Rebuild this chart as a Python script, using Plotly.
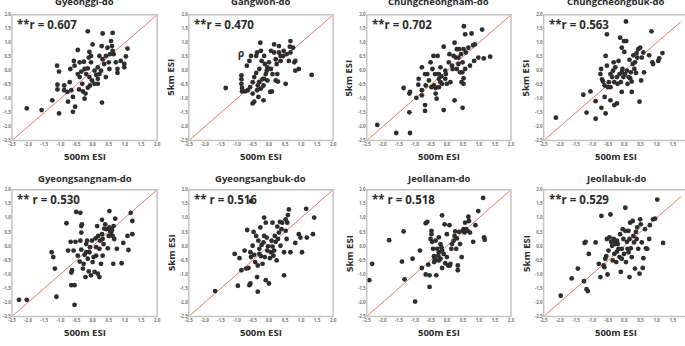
import plotly.graph_objects as go

W, H = 685, 346

TITLES = ["Gyeonggi-do", "Gangwon-do", "Chungcheongnam-do", "Chungcheongbuk-do",
          "Gyeongsangnam-do", "Gyeongsangbuk-do", "Jeollanam-do", "Jeollabuk-do"]
R_TEXT = ["**r = 0.607", "**r = 0.470", "**r = 0.702", "**r = 0.563",
          "** r = 0.530", "** r = 0.516", "** r = 0.518", "**r = 0.529"]
TICKS = [-2.5, -2.0, -1.5, -1.0, -0.5, 0.0, 0.5, 1.0, 1.5, 2.0]
LINE = [-2.5, 2.0]
X_LABEL = "500m ESI"
Y_LABEL = "5km ESI"

GYEONGGI_X = [-2.04, -1.58, -1.25, -1.04, -1.10, -1.04, -1.09, -1.09, -0.88, -0.88, -0.78, -0.71, -0.66, -0.76, -0.61, -0.61, -0.54, -0.69, -0.58, -0.46, -0.56, -0.40, -0.27, -0.46, -0.35, -0.40, -0.32, -0.42, -0.30, -0.22, -0.25, -0.15, -0.10, -0.12, -0.05, -0.05, -0.15, -0.20, -0.10, -0.02, -0.08, -0.15, 0.00, 0.06, 0.11, 0.16, 0.06, 0.16, 0.21, 0.28, 0.31, 0.31, 0.29, 0.36, 0.41, 0.41, 0.50, 0.52, 0.57, 0.62, 0.60, 0.65, 0.62, 0.54, 0.72, 0.77, 0.77, 0.87, 0.98, 0.98, 1.03, 1.08, 0.46, 0.21, 0.26, -0.25, 0.16]
GYEONGGI_Y = [-1.35, -1.41, -1.06, -1.53, 0.18, -0.03, -0.50, -0.67, -0.53, -0.70, -0.76, -0.41, -0.70, -1.11, -0.94, -1.47, -1.29, 0.06, 0.35, 0.74, 0.18, 0.30, 0.32, -0.12, -0.03, -0.23, -0.47, -0.67, -0.74, -0.82, -1.00, 1.41, 0.67, 0.47, 0.53, 0.30, 0.08, -0.12, -0.23, -0.35, -0.53, -0.61, 0.94, 0.00, -0.15, 0.12, -0.47, -0.47, 0.53, 0.88, 1.33, 0.41, -1.14, 0.24, -0.23, 0.53, 0.30, 0.06, 1.06, 1.35, 0.88, 0.59, 0.71, 0.59, 0.30, 0.06, -0.08, 0.35, 0.24, 0.12, 0.51, 0.79, 0.82, -0.12, 0.00, 0.06, -0.29]

GANGWON_X = [-1.35, -0.86, -0.86, -0.86, -0.84, -0.84, -0.74, -0.66, -0.69, -0.56, -0.59, -0.51, -0.51, -0.46, -0.51, -0.46, -0.40, -0.37, -0.37, -0.35, -0.33, -0.30, -0.30, -0.27, -0.25, -0.23, -0.20, -0.17, -0.17, -0.13, -0.10, -0.07, -0.05, 0.04, 0.09, 0.00, 0.06, 0.16, 0.16, 0.21, 0.21, 0.24, 0.28, 0.31, 0.31, 0.36, 0.36, 0.44, 0.52, 0.55, 0.62, 0.65, 0.67, 0.67, 0.75, 0.79, 0.82, 0.82, 0.93, 1.33, -0.05, -0.15, 0.11, -0.25, -0.40, 0.46, -0.61, 0.06, -0.15, 0.26]
GANGWON_Y = [-0.62, -0.17, -0.31, -0.47, -0.62, -0.74, -0.74, -0.70, 0.18, 0.53, -0.59, -0.82, -1.17, -1.11, -0.41, -0.23, -0.08, 0.65, -0.70, -0.53, -0.94, -0.41, 0.06, 1.00, 0.71, 0.35, -0.31, -1.06, -0.53, 0.24, -0.12, 0.00, -0.35, -0.76, -0.74, 0.30, 0.06, 0.94, 0.65, 0.41, -0.35, 0.24, -0.39, 0.88, 0.65, 0.35, 0.53, 0.53, -0.47, 0.59, 0.35, 0.86, 1.06, 0.65, 0.82, 0.30, 0.35, 0.00, 0.06, -0.15, 0.12, 0.53, -0.12, -0.64, 0.53, 0.71, 0.35, 0.71, -0.29, -0.12]

CHUNGNAM_X = [-2.17, -1.58, -1.15, -1.35, -1.17, -1.15, -1.17, -0.95, -0.88, -0.89, -0.78, -0.78, -0.78, -0.68, -0.68, -0.68, -0.61, -0.56, -0.51, -0.48, -0.42, -0.40, -0.35, -0.35, -0.32, -0.37, -0.29, -0.27, -0.25, -0.20, -0.20, -0.17, -0.15, -0.10, -0.10, -0.05, -0.03, 0.00, -0.05, 0.06, 0.08, 0.11, 0.16, 0.18, 0.21, 0.24, 0.24, 0.28, 0.31, 0.36, 0.36, 0.38, 0.41, 0.44, 0.46, 0.48, 0.49, 0.52, 0.52, 0.49, 0.53, 0.57, 0.52, 0.57, 0.59, 0.67, 0.72, 0.77, 0.82, 0.85, 0.87, 0.98, 1.10, 1.15, 1.35, -0.25, -0.45, 0.31, -0.25, -0.66]
CHUNGNAM_Y = [-1.94, -2.23, -2.23, -0.62, -0.82, -0.76, -1.49, -0.97, -0.29, -0.50, -0.70, -0.88, 0.12, -0.12, -1.23, -1.44, -0.12, -0.35, 0.30, -0.59, 0.53, -0.53, -0.62, -0.82, -1.00, -0.12, 0.53, -0.12, -0.29, 0.12, -0.41, -0.20, -0.47, 0.86, -1.41, 0.00, -0.12, -0.47, -0.29, 0.30, 0.59, -0.41, 0.18, 0.06, 0.53, 1.00, -1.06, 0.47, 0.06, 0.24, 0.47, 0.77, -0.06, 0.59, -0.41, -0.06, 0.30, 0.77, -0.27, -1.33, 1.59, 1.30, -0.47, 0.06, 0.65, 0.82, 0.18, 1.33, 0.91, 0.35, 0.94, 0.47, 1.47, 0.44, 0.50, -0.12, 0.06, 0.77, -0.59, -0.53]

CHUNGBUK_X = [-2.12, -1.27, -1.17, -1.05, -0.89, -0.89, -0.71, -0.74, -0.72, -0.66, -0.69, -0.61, -0.61, -0.58, -0.58, -0.54, -0.54, -0.51, -0.48, -0.43, -0.43, -0.38, -0.35, -0.33, -0.31, -0.31, -0.28, -0.23, -0.21, -0.18, -0.15, -0.13, -0.11, -0.08, -0.08, -0.06, -0.03, 0.00, -0.01, 0.05, 0.06, 0.02, 0.08, 0.10, 0.13, 0.16, 0.20, 0.23, 0.23, 0.26, 0.28, 0.31, 0.33, 0.36, 0.38, 0.40, 0.43, 0.47, 0.49, 0.52, 0.54, 0.59, 0.61, 0.77, 0.84, 0.87, 0.89, 1.05, 1.08, 1.18, -0.23, 0.18, -0.08, -0.43]
CHUNGBUK_Y = [-1.68, -0.86, -1.50, -0.74, -1.09, -1.72, -1.33, -0.12, 0.06, -0.39, -0.31, -0.53, -0.94, 0.53, -1.53, 1.30, 0.18, -0.59, -0.41, -0.12, -1.06, -0.23, 0.00, 0.30, -0.41, -1.23, 0.12, -1.17, -0.47, 0.35, -0.12, 1.18, -0.41, -0.76, -0.06, 0.06, -0.23, 0.67, 1.06, 1.76, 1.06, -0.12, 0.00, -0.47, -0.23, 0.39, -0.06, -0.39, -0.76, 0.24, 0.55, 0.06, 0.30, -0.08, 0.63, 0.47, 0.77, -1.11, 0.82, -0.35, 0.47, 0.65, -0.06, 0.55, 1.41, 0.30, 0.24, 0.35, 0.44, 0.63, -0.23, -0.27, 0.82, -0.59]

GYEONGNAM_X = [-2.28, -2.04, -1.27, -1.22, -1.17, -1.12, -0.81, -0.76, -0.68, -0.64, -0.66, -0.66, -0.56, -0.59, -0.56, -0.53, -0.51, -0.46, -0.40, -0.38, -0.38, -0.35, -0.35, -0.33, -0.35, -0.30, -0.28, -0.25, -0.22, -0.20, -0.17, -0.15, -0.12, -0.10, -0.08, -0.05, -0.02, 0.00, 0.03, 0.06, 0.09, 0.11, 0.14, 0.16, 0.17, 0.21, 0.21, 0.23, 0.26, 0.29, 0.29, 0.31, 0.34, 0.36, 0.39, 0.43, 0.47, 0.50, 0.52, 0.52, 0.54, 0.57, 0.60, 0.62, 0.64, 0.65, 0.67, 0.70, 0.75, 0.90, 0.95, 1.08, 1.11, 1.18, 1.23, 1.23, 0.31, -0.20, 0.11]
GYEONGNAM_Y = [-1.91, -1.91, -0.22, -0.39, -0.80, -1.80, 0.81, -0.16, 0.15, -0.86, -0.94, -1.39, -1.39, -0.16, -2.09, 0.15, 1.21, -0.34, -0.55, 1.18, 0.19, 0.71, 0.48, 0.77, -0.13, -0.80, -0.63, -0.31, -1.10, 0.07, 0.19, -0.45, -0.90, -0.22, -0.04, -1.04, 0.19, -0.57, -0.39, -0.92, 0.27, -0.04, 0.71, -0.98, 0.36, -1.10, -0.10, 0.19, -0.63, 0.93, 0.42, -0.34, 0.07, 0.62, 0.77, 0.60, -0.08, 0.36, 1.24, 0.66, 0.54, 0.48, 0.57, 0.36, -0.63, 0.71, 0.25, 0.97, -0.10, -0.61, 0.11, 0.36, -0.14, 1.18, 0.89, 0.42, 0.25, -0.22, -0.34]

GYEONGBUK_X = [-1.68, -1.07, -0.97, -0.92, -0.86, -0.76, -0.71, -0.68, -0.64, -0.61, -0.58, -0.58, -0.56, -0.51, -0.48, -0.46, -0.43, -0.40, -0.37, -0.35, -0.33, -0.30, -0.30, -0.27, -0.25, -0.23, -0.20, -0.17, -0.15, -0.13, -0.10, -0.10, -0.07, -0.05, -0.03, 0.00, 0.03, 0.06, 0.08, 0.11, 0.11, 0.14, 0.18, 0.21, 0.24, 0.26, 0.28, 0.31, 0.34, 0.36, 0.39, 0.41, 0.47, 0.47, 0.52, 0.55, 0.57, 0.59, 0.62, 0.52, 0.67, 0.82, 0.93, 0.98, 1.03, 1.16, 1.18, 1.37, 1.41, -0.56, -0.35, 0.16, -0.15]
GYEONGBUK_Y = [-1.60, -0.28, -1.41, -0.43, -0.86, -0.16, -0.80, 0.57, -0.78, -1.39, -1.33, -0.22, -0.39, 0.01, 0.50, -0.31, -0.57, 0.36, -1.10, -1.62, 0.19, -0.10, -0.28, 0.66, -0.36, 0.04, -0.63, 0.13, 1.01, -0.39, -1.21, 0.83, 0.30, -0.16, -0.01, -1.33, -0.43, -0.22, 0.19, 0.83, -0.02, -0.34, 0.36, 0.15, -0.51, 0.69, 0.25, 0.48, 0.86, 0.01, 0.60, 0.83, -0.22, -1.04, 0.54, 0.25, 0.83, 1.10, 1.30, 0.95, -0.22, 0.11, 0.42, 0.30, -0.22, 1.32, 0.30, 0.42, 1.01, 1.59, -0.69, -0.16, 0.36]

JEONNAM_X = [-2.42, -2.33, -1.80, -1.35, -1.40, -1.32, -1.07, -0.99, -0.84, -0.78, -0.66, -0.66, -0.61, -0.58, -0.54, -0.54, -0.51, -0.48, -0.48, -0.46, -0.43, -0.40, -0.38, -0.35, -0.35, -0.33, -0.30, -0.27, -0.25, -0.25, -0.20, -0.20, -0.17, -0.15, -0.15, -0.10, -0.07, -0.05, 0.00, 0.00, 0.04, 0.08, 0.09, 0.11, 0.14, 0.21, 0.24, 0.26, 0.29, 0.31, 0.34, 0.34, 0.38, 0.41, 0.46, 0.49, 0.52, 0.55, 0.57, 0.60, 0.65, 0.67, 0.69, 0.72, 0.82, 0.89, 0.98, 1.13, 1.16, 1.18, -0.15, 0.16, -0.25, -0.40]
JEONNAM_Y = [-1.21, -0.63, 0.21, 0.52, -0.55, -1.18, -0.45, -1.97, -0.16, -0.78, -1.01, 0.81, 0.86, -0.66, -1.45, -1.04, 0.25, 0.54, 0.42, 0.15, -0.10, -0.36, -0.45, 0.19, -0.51, -1.04, -0.10, -0.34, -0.51, 0.31, 0.07, -0.45, -0.04, 1.09, -0.78, -0.28, 0.77, -0.61, 0.42, -0.39, -0.69, 0.74, -0.69, -0.63, -0.10, 0.19, 0.36, 0.52, -0.10, 0.27, -0.69, -0.86, 0.50, 0.07, -0.39, 0.54, 0.60, 0.48, 0.83, 0.60, 0.54, 1.04, 0.89, 0.48, 0.15, 0.74, 1.24, 1.71, 0.31, 0.22, -0.16, 0.07, -0.22, -0.57]

JEONBUK_X = [-1.97, -1.63, -1.44, -1.25, -1.17, -1.13, -1.23, -1.20, -1.10, -0.89, -0.79, -0.74, -0.71, -0.64, -0.62, -0.59, -0.56, -0.52, -0.54, -0.49, -0.46, -0.43, -0.41, -0.38, -0.36, -0.33, -0.31, -0.28, -0.25, -0.23, -0.20, -0.18, -0.15, -0.13, -0.11, -0.08, -0.05, -0.03, -0.01, 0.03, 0.03, 0.05, 0.08, 0.10, 0.13, 0.16, 0.16, 0.18, 0.20, 0.23, 0.26, 0.28, 0.30, 0.33, 0.36, 0.38, 0.40, 0.43, 0.47, 0.49, 0.51, 0.54, 0.57, 0.59, 0.64, 0.67, 0.71, 0.77, 0.79, 0.89, 0.95, 1.02, 1.20, -0.33, -0.23, -0.08, 0.13]
JEONBUK_Y = [-1.76, -1.15, -0.80, -1.25, -1.53, -1.60, 0.11, 0.15, -0.28, 0.13, -0.63, -1.10, 1.07, -0.69, -0.75, -0.45, -0.36, -1.01, 0.25, -0.16, 0.31, 1.12, 0.15, 0.01, -0.51, 0.25, -0.28, 0.07, -0.57, -0.20, 0.07, -0.10, -0.39, 0.42, -0.92, -0.10, 0.60, 0.25, -0.28, 1.36, 0.54, -0.57, 0.15, -0.10, 0.54, -1.10, 0.25, 0.83, -0.08, -0.39, 0.89, 0.36, 0.13, -0.80, 0.50, 0.25, 0.66, -0.10, -0.98, 0.95, 0.77, 0.13, -0.78, -0.43, 0.60, -0.08, -0.10, 0.25, 0.74, 0.95, 0.97, 1.65, 0.11, 0.19, 0.19, -0.45, -0.22]

DATA_X = [GYEONGGI_X, GANGWON_X, CHUNGNAM_X, CHUNGBUK_X, GYEONGNAM_X, GYEONGBUK_X, JEONNAM_X, JEONBUK_X]
DATA_Y = [GYEONGGI_Y, GANGWON_Y, CHUNGNAM_Y, CHUNGBUK_Y, GYEONGNAM_Y, GYEONGBUK_Y, JEONNAM_Y, JEONBUK_Y]

# layout boxes in pixels (left, right) and (top, bottom)
COLS = [(8, 155), (187, 333), (367, 513), (546, 693)]
ROWS = [(12, 140), (190, 319)]
TITLE_Y = [-2, 179]

FONT = "Open Sans"
TXT = "#2b2b2b"

fig = go.Figure()
annotations = []
shapes = []
for i in range(8):
    r, c = divmod(i, 4)
    left, right = COLS[c]
    top, bottom = ROWS[r]
    n = "" if i == 0 else str(i + 1)
    xmax = LINE[1]
    xr = right
    if right > W:
        xmax = LINE[0] + (LINE[1] - LINE[0]) * (W - left) / (right - left)
        xr = W
    common = dict(showgrid=False, zeroline=False, showline=False, ticks="",
                  tickvals=TICKS, ticktext=[f"{t:.1f}" for t in TICKS],
                  tickfont=dict(size=4.5, color="#777", family=FONT, weight="bold"),
                  fixedrange=True)
    fig.update_layout(**{
        f"xaxis{n}": dict(domain=[left / W, xr / W], range=[LINE[0], xmax],
                          anchor=f"y{n}", **common),
        f"yaxis{n}": dict(domain=[1 - bottom / H, 1 - top / H], range=[LINE[0], LINE[1]],
                          anchor=f"x{n}", **common),
    })
    fig.add_trace(go.Scatter(x=LINE, y=LINE, mode="lines", xaxis=f"x{n}", yaxis=f"y{n}",
                             line=dict(color="#F07A62", width=1), hoverinfo="skip",
                             showlegend=False))
    fig.add_trace(go.Scatter(x=DATA_X[i], y=DATA_Y[i], mode="markers",
                             xaxis=f"x{n}", yaxis=f"y{n}",
                             marker=dict(color="#2e2e2e", size=4.8), showlegend=False))
    shapes.append(dict(type="rect", xref="paper", yref="paper",
                       x0=left / W, x1=right / W, y0=1 - bottom / H, y1=1 - top / H,
                       line=dict(color="#c4c4c4", width=1.5), layer="above"))
    cx = (left + right) / 2
    annotations.append(dict(text=TITLES[i], xref="paper", yref="paper",
                            x=cx / W, y=1 - TITLE_Y[r] / H, showarrow=False,
                            xanchor="center", yanchor="middle",
                            font=dict(size=9.5, color=TXT, family=FONT, weight="bold")))
    annotations.append(dict(text=X_LABEL, xref="paper", yref="paper",
                            x=cx / W, y=1 - (bottom + 16) / H, showarrow=False,
                            xanchor="center", yanchor="middle",
                            font=dict(size=9.5, color=TXT, family=FONT, weight="bold")))
    annotations.append(dict(text=Y_LABEL, xref="paper", yref="paper",
                            x=(left - 18) / W, y=1 - ((top + bottom) / 2) / H,
                            showarrow=False, textangle=-90,
                            xanchor="center", yanchor="middle",
                            font=dict(size=9.5, color=TXT, family=FONT, weight="bold")))
    annotations.append(dict(text=R_TEXT[i], xref="paper", yref="paper",
                            x=(left + 3) / W, y=1 - (top + 10) / H, showarrow=False,
                            xanchor="left", yanchor="middle",
                            font=dict(size=11.5, color=TXT, family=FONT, weight="bold")))

annotations.append(dict(text="ρ", xref="x2", yref="y2", x=-0.86, y=0.62, showarrow=False,
                        font=dict(size=10, color=TXT, family=FONT, weight="bold")))

fig.update_layout(width=W, height=H, margin=dict(l=0, r=0, t=0, b=0),
                  paper_bgcolor="white", plot_bgcolor="white",
                  annotations=annotations, shapes=shapes, showlegend=False)
fig.write_html("out.html")
